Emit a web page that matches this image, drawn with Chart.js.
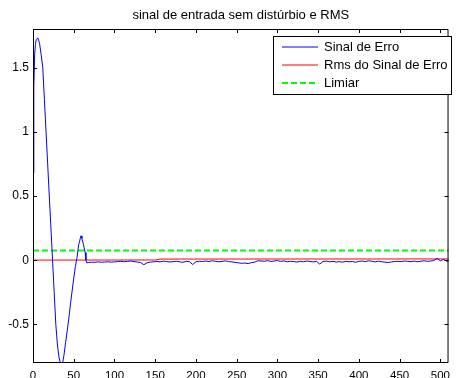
<!DOCTYPE html>
<html>
<head>
<meta charset="utf-8">
<script src="https://cdn.jsdelivr.net/npm/chart.js@4"></script>
<style>
  html, body { margin: 0; padding: 0; background: #fff; }
  #wrap { width: 456px; height: 378px; }
</style>
</head>
<body>
<div id="wrap"><canvas id="chart" width="456" height="378"></canvas></div>
<script>
  // transient part of the error signal (sample, value)
  const transientX = [0, 1, 2, 3, 4, 6, 8, 10, 12, 14, 16, 18, 20, 22, 24, 26, 28, 30, 32, 34, 35, 36, 38, 40, 42, 44, 46, 48, 50, 52, 54, 56, 57, 58, 59, 60, 62, 64, 65, 66];
  const transientY = [0.68, 1.35, 1.6, 1.68, 1.72, 1.73, 1.69, 1.6, 1.5, 1.25, 1.0, 0.75, 0.5, 0.25, 0.0, -0.25, -0.5, -0.66, -0.76, -0.81, -0.82, -0.81, -0.74, -0.64, -0.55, -0.45, -0.34, -0.24, -0.14, -0.05, 0.02, 0.12, 0.14, 0.17, 0.19, 0.17, 0.12, 0.06, 0.0, -0.02];

  // steady-state part, one value every 4 samples from 68
  const steadyStart = 68;
  const steadyStep = 4;
  const steadyY = [
    -0.018, -0.015, -0.016, -0.013, -0.016, -0.014, -0.012, -0.015, -0.013,
    -0.010, -0.008, -0.012, -0.009, -0.006, -0.011, -0.014, -0.018, -0.035,
    -0.020, -0.015, -0.012, -0.009, -0.013, -0.007, -0.010, -0.014, -0.011,
    -0.008, -0.012, -0.016, -0.009, -0.011, -0.033, -0.012, -0.008, -0.010,
    -0.006, -0.010, -0.004, -0.008, -0.012, -0.009, -0.005, -0.010, -0.013,
    -0.017, -0.020, -0.024, -0.022, -0.026, -0.019, -0.015, -0.004, -0.006,
    -0.008, -0.003, -0.010, -0.006, -0.002, -0.009, -0.005, -0.012, -0.008,
    -0.011, -0.014, -0.008, -0.012, -0.006, -0.010, -0.013, -0.009, -0.030,
    -0.010, -0.007, -0.012, -0.009, -0.014, -0.011, -0.015, -0.008, -0.012,
    -0.010, -0.016, -0.009, -0.006, -0.011, -0.004, -0.008, -0.013, -0.007,
    -0.012, -0.015, -0.018, -0.013, -0.010, -0.008, -0.011, -0.006, -0.009,
    -0.011, -0.007, -0.012, -0.008, -0.004, -0.009, -0.006, -0.002, 0.014,
    -0.004, 0.006, -0.008
  ];
  const lastX = 511;
  const lastY = -0.005;

  const rmsX = [0, 150, 156, 511];
  const rmsY = [0.001, 0.002, 0.009, 0.01];

  const limiarX = [0, 511];
  const limiarY = [0.075, 0.075];

  const xTicks = [0, 50, 100, 150, 200, 250, 300, 350, 400, 450, 500];
  const yTicks = [-0.5, 0, 0.5, 1, 1.5];

  const seriesNames = ['Sinal de Erro', 'Rms do Sinal de Erro', 'Limiar'];
  const seriesColors = ['#0000ff', '#ff0000', '#00ff00'];
  const titleText = 'sinal de entrada sem distúrbio e RMS';

  const FONT = 'Arial, "Liberation Sans", Helvetica, sans-serif';

  const toPoints = (xs, ys) => xs.map((x, i) => ({ x: x, y: ys[i] }));

  const signalPts = toPoints(transientX, transientY)
    .concat(steadyY.map((y, i) => ({ x: steadyStart + i * steadyStep, y: y })))
    .concat([{ x: lastX, y: lastY }]);

  // MATLAB style title, box, inward ticks and legend
  const matlabAxes = {
    id: 'matlabAxes',
    afterDraw(chart) {
      const ctx = chart.ctx;
      const a = chart.chartArea;
      const xs = chart.scales.x;
      const ys = chart.scales.y;
      const len = 4;
      ctx.save();

      ctx.fillStyle = '#000';
      ctx.font = '13px ' + FONT;
      ctx.textAlign = 'center';
      ctx.textBaseline = 'middle';
      ctx.fillText(titleText, (a.left + a.right) / 2, 15);

      ctx.strokeStyle = '#000';
      ctx.lineWidth = 1;
      ctx.beginPath();
      ctx.rect(a.left + 0.5, a.top + 0.5, a.right - a.left - 1, a.bottom - a.top - 1);
      for (const t of xTicks) {
        const px = Math.round(xs.getPixelForValue(t)) + 0.5;
        ctx.moveTo(px, a.bottom); ctx.lineTo(px, a.bottom - len);
        ctx.moveTo(px, a.top); ctx.lineTo(px, a.top + len);
      }
      for (const t of yTicks) {
        const py = Math.round(ys.getPixelForValue(t)) + 0.5;
        ctx.moveTo(a.left, py); ctx.lineTo(a.left + len, py);
        ctx.moveTo(a.right, py); ctx.lineTo(a.right - len, py);
      }
      ctx.stroke();

      // legend box
      const bx = 273.5, by = 36.5, bw = 178, bh = 58;
      ctx.fillStyle = '#fff';
      ctx.fillRect(bx, by, bw, bh);
      ctx.strokeStyle = '#000';
      ctx.strokeRect(bx, by, bw, bh);
      const rows = [47, 65, 83];
      const widths = [1, 1, 2];
      const dashes = [[], [], [6, 3]];
      seriesNames.forEach((name, i) => {
        ctx.beginPath();
        ctx.strokeStyle = seriesColors[i];
        ctx.lineWidth = widths[i];
        ctx.setLineDash(dashes[i]);
        ctx.moveTo(282, rows[i]);
        ctx.lineTo(318, rows[i]);
        ctx.stroke();
        ctx.setLineDash([]);
        ctx.fillStyle = '#000';
        ctx.font = '13px ' + FONT;
        ctx.textBaseline = 'middle';
        ctx.textAlign = 'left';
        ctx.fillText(name, 324, rows[i]);
      });
      ctx.restore();
    }
  };

  new Chart(document.getElementById('chart'), {
    type: 'line',
    data: {
      datasets: [
        {
          label: seriesNames[0],
          data: signalPts,
          borderColor: seriesColors[0],
          borderWidth: 1,
          pointRadius: 0,
          tension: 0
        },
        {
          label: seriesNames[1],
          data: toPoints(rmsX, rmsY),
          borderColor: seriesColors[1],
          borderWidth: 1,
          pointRadius: 0
        },
        {
          label: seriesNames[2],
          data: toPoints(limiarX, limiarY),
          borderColor: seriesColors[2],
          borderWidth: 2,
          borderDash: [6, 3],
          pointRadius: 0
        }
      ]
    },
    options: {
      responsive: false,
      animation: false,
      layout: { padding: { left: 0, right: 1, top: 29, bottom: 0 } },
      plugins: {
        legend: { display: false },
        tooltip: { enabled: false },
        title: { display: false }
      },
      scales: {
        x: {
          type: 'linear',
          min: 0,
          max: 510,
          afterBuildTicks: (s) => { s.ticks = xTicks.map(v => ({ value: v })); },
          afterFit: (s) => { s.height = 15; },
          grid: { display: false, drawTicks: false },
          border: { display: false },
          ticks: {
            color: '#000',
            padding: 6,
            maxRotation: 0,
            autoSkip: false,
            font: { family: FONT, size: 11.5 }
          }
        },
        y: {
          type: 'linear',
          min: -0.8,
          max: 1.8,
          afterBuildTicks: (s) => { s.ticks = yTicks.map(v => ({ value: v })); },
          afterFit: (s) => { s.width = 33; },
          grid: { display: false, drawTicks: false },
          border: { display: false },
          ticks: {
            color: '#000',
            padding: 4,
            autoSkip: false,
            font: { family: FONT, size: 12 },
            callback: (v) => String(v)
          }
        }
      }
    },
    plugins: [matlabAxes]
  });
</script>
</body>
</html>
